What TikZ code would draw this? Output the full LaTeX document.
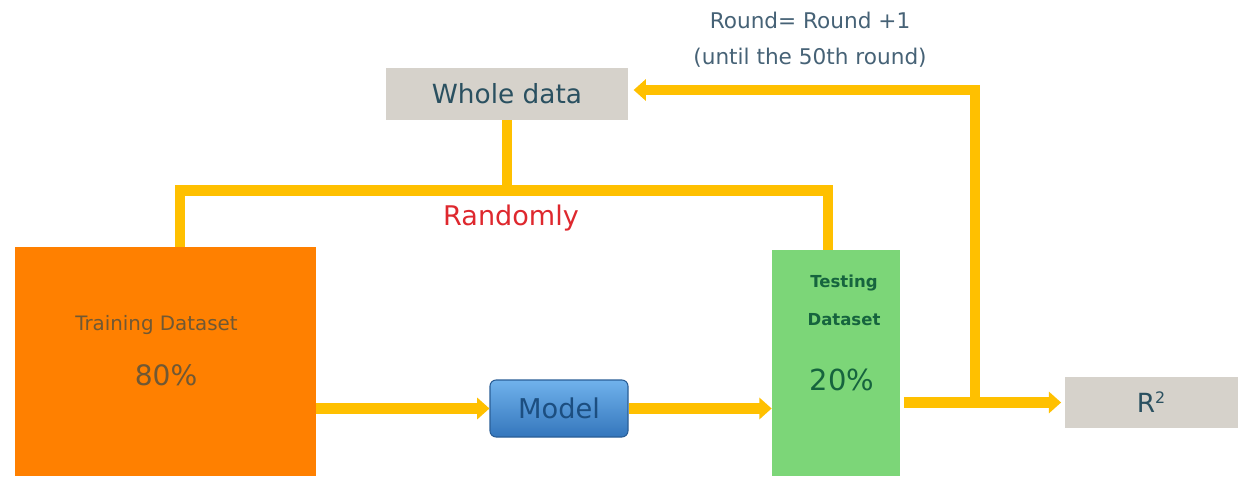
\documentclass[tikz,border=0pt]{standalone}
\usepackage{fontspec}
\setmainfont{DejaVu Sans}
\usepackage{xcolor}
\definecolor{gold}{RGB}{255,192,0}
\definecolor{trainorange}{RGB}{255,128,0}
\definecolor{testgreen}{RGB}{124,214,120}
\definecolor{boxgray}{RGB}{214,210,203}
\definecolor{modeltop}{RGB}{112,178,236}
\definecolor{modelbot}{RGB}{52,118,188}
\definecolor{slate}{RGB}{42,80,96}
\definecolor{roundgray}{RGB}{70,98,118}
\definecolor{redtxt}{RGB}{222,40,46}
\definecolor{traintxt}{RGB}{112,88,52}
\definecolor{testtxt}{RGB}{22,100,62}
\definecolor{modeltxt}{RGB}{28,78,128}
\usepackage{tikz}
\usetikzlibrary{arrows.meta, positioning, calc}
\tikzset{
  graybox/.style={fill=boxgray, inner sep=0pt,
    font=\fontsize{15}{18}\selectfont\color{slate}},
  databox/.style={inner sep=0pt},
  modelbox/.style={draw=modelbot!80!black, line width=0.6pt,
    rounded corners=3.5pt, top color=modeltop, bottom color=modelbot,
    minimum width=2.76cm, minimum height=1.14cm, inner sep=0pt,
    font=\fontsize{15.5}{18}\selectfont\color{modeltxt}},
  link/.style={line width=6.2pt, color=gold},
  linkarrow/.style={link, -{Triangle[length=7pt,width=12pt]}}
}

\begin{document}
\begin{tikzpicture}
  \useasboundingbox (0,0) rectangle (24.76,9.52);

  % boxes
  \node[graybox, minimum width=4.84cm, minimum height=1.04cm] (whole) at (10.14,7.64) {Whole data};
  \node[databox, fill=trainorange, minimum width=6.02cm, minimum height=4.58cm] (train) at (3.31,2.29) {};
  \node[databox, fill=testgreen, minimum width=2.56cm, minimum height=4.52cm] (test) at (16.72,2.26) {};
  \node[modelbox] (model) at (11.18,1.35) {Model};
  \node[graybox, minimum width=3.46cm, minimum height=1.02cm] (rsq) at (23.03,1.47)
    {R\textsuperscript{\fontsize{9}{9}\selectfont 2}};

  % texts inside the datasets
  \node[font=\fontsize{11.3}{13}\selectfont\color{traintxt}] (trainlbl) at (3.13,3.02) {Training Dataset};
  \node[font=\fontsize{16}{19}\selectfont\color{traintxt}] (trainpct) at (3.32,2.02) {80\%};
  \node[font=\fontsize{9.4}{11}\selectfont\bfseries\color{testtxt}] (testlbl) at (16.88,3.86) {Testing};
  \node[font=\fontsize{9.4}{11}\selectfont\bfseries\color{testtxt}] (testlbl2) at (16.88,3.12) {Dataset};
  \node[font=\fontsize{16.5}{19}\selectfont\color{testtxt}] (testpct) at (16.84,1.92) {20\%};

  % random split
  \coordinate (fork) at ($(whole.south)+(0,-1.40)$);
  \draw[link] (whole.south) -- (fork);
  \draw[link] ([xshift=0.29cm]train.north) |- (fork) -| ([xshift=-0.16cm]test.north);
  \node[font=\fontsize{15.4}{18}\selectfont\color{redtxt}] (rand) at (10.22,5.16) {Randomly};

  % flow
  \draw[linkarrow] (train.east |- model.west) -- (model.west);
  \draw[linkarrow] (model.east) -- (test.west |- model.east);
  \draw[linkarrow] ([xshift=2pt]test.east |- rsq.west) -- ([xshift=-2pt]rsq.west);

  % repeat loop
  \coordinate (loop) at (19.50,0);
  \draw[linkarrow] (loop |- rsq.west) -- ($(loop |- whole.east)+(0,0.08)$) -- ([xshift=3pt,yshift=0.08cm]whole.east);
  \node[font=\fontsize{12.3}{20.4}\selectfont\color{roundgray}, align=center] (roundlbl) at (16.20,8.72)
    {Round= Round +1\\(until the 50th round)};

\end{tikzpicture}
\end{document}
